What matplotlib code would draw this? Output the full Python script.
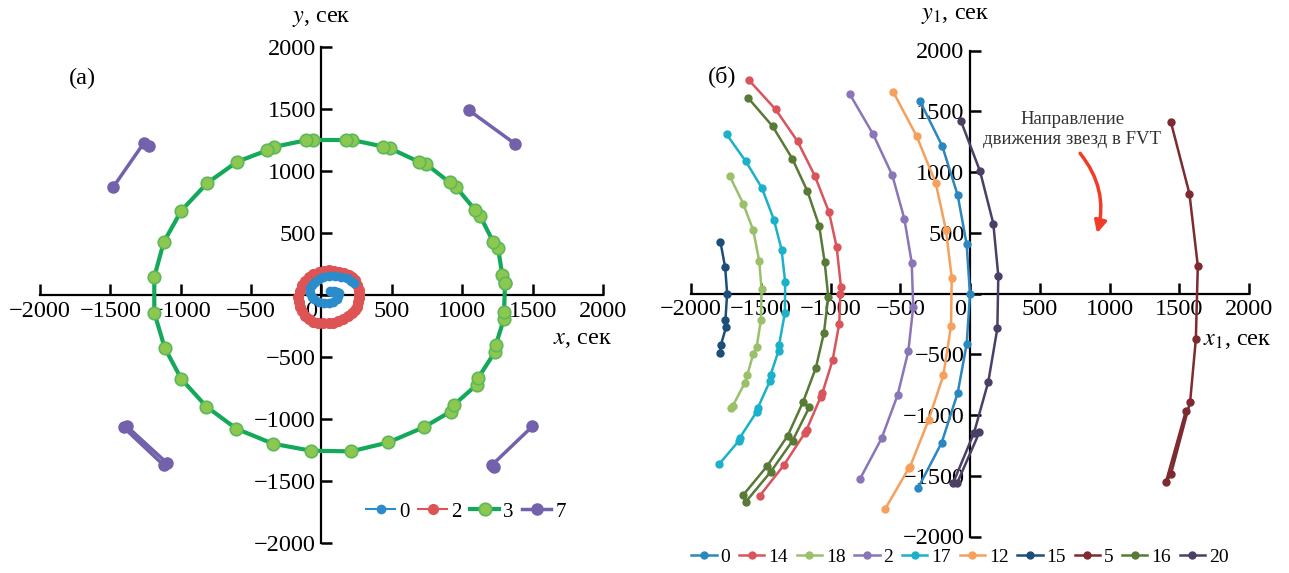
import numpy as np
import matplotlib
matplotlib.use("Agg")
import matplotlib.pyplot as plt
import matplotlib.transforms as mtransforms

plt.rcParams['font.family'] = ['Liberation Serif', 'DejaVu Serif']
plt.rcParams['mathtext.fontset'] = 'stix'

nan = np.nan

# ---------------- panel (а) data ----------------
a_labels = ["0", "2", "3", "7"]
a0_x = [60, 73, 90, 110, 121, 118, 109, 82, 50, 15, -21, -50, -69, -80, -80, -68, -45, -17, 14, 55, 97, 140, 180, 210, 228]
a0_y = [30, 27, 32, 28, 14, -12, -35, -55, -67, -65, -54, -35, -13, 20, 54, 82, 107, 128, 142, 150, 153, 147, 134, 115, 94]
a2_x = [240, 255, 263, 268, 268, 262, 251, 236, 216, 188, 156, 120, 85, 50, 14, -22, -57, -88, -116, -137, -152,
        -161, -164, -155, -140, -118, -92, -58, -21, 15, 50, 86, 121, 158, 192, 218]
a2_y = [120, 80, 40, 8, -27, -60, -94, -122, -147, -172, -195, -212, -222, -226, -227, -222, -214, -195, -169, -133,
        -94, -53, -13, 35, 80, 115, 147, 170, 187, 196, 201, 196, 187, 175, 161, 142]
a3_x = [1304, 1285, 1254, 1221, 1126, 1090, 958, 910, 745, 692, 486, 439, 218, 171, -62, -109, -339, -386, -600, -813,
        -996, -1121, -1188, -1188, -1114, -996, -818, -604, -346, -73, 211, 474, 728, 917, 941, 1102, 1114, 1233,
        1238, 1297, 1297, 1304]
a3_y = [99, 158, 380, 426, 640, 688, 867, 908, 1055, 1074, 1183, 1197, 1250, 1250, 1250, 1248, 1194, 1167, 1074, 902,
        680, 426, 145, -142, -426, -677, -900, -1079, -1199, -1256, -1261, -1189, -1066, -940, -886, -725, -667, -458,
        -404, -190, -137, 99]
a7_x = [-1482, -1264, -1228, nan, 1048, 1373, nan, -1406, -1121, -1098, -1382, nan, 1498, 1214, 1226]
a7_y = [867, 1223, 1202, nan, 1489, 1221, nan, -1068, -1373, -1355, -1060, nan, -1060, -1368, -1390]

# ---------------- panel (б) data ----------------
b_labels = ["0", "14", "18", "2", "17", "12", "15", "5", "16", "20"]
b0_x = [-359, -198, -88, -24, 0, -24, -88, -203, -371]
b0_y = [1584, 1211, 808, 405, -6, -417, -817, -1228, -1598]
b14_x = [-1583, -1394, -1236, -1112, -1011, -956, -925, -930, -937, -985, -1059, -1070, -1172, -1185, -1334, -1506]
b14_y = [1754, 1516, 1252, 967, 671, 383, 54, 0, -247, -549, -822, -850, -1124, -1150, -1412, -1664]
b18_x = [-1722, -1626, -1554, -1511, -1494, -1499, -1530, -1554, -1597, -1614, -1710, -1700]
b18_y = [965, 740, 521, 268, 33, -220, -444, -499, -672, -735, -946, -930]
b2_x = [-861, -694, -557, -471, -418, -407, -442, -519, -634, -789]
b2_y = [1639, 1310, 973, 617, 255, -110, -474, -836, -1193, -1527]
b17_x = [-1745, -1609, -1492, -1406, -1351, -1325, -1327, -1368, -1372, -1430, -1434, -1523, -1530, -1650, -1655, -1798]
b17_y = [1310, 1091, 869, 608, 362, 96, -159, -420, -470, -672, -720, -946, -975, -1187, -1210, -1404]
b12_x = [-550, -382, -246, -172, -131, -136, -191, -297, -430, -440, -610]
b12_y = [1658, 1294, 910, 521, 131, -266, -672, -1042, -1426, -1440, -1777]
b15_x = [-1789, -1755, -1741, -1753, -1748, -1786, -1791]
b15_y = [424, 214, 0, -214, -274, -425, -488]
b5_x = [1440, 1573, 1633, 1619, 1578, 1440, 1404, 1547]
b5_y = [1411, 822, 227, -376, -891, -1489, -1554, -968]
b16_x = [-1590, -1415, -1274, -1165, -1081, -1042, -1016, -1047, -1105, -1196, -1308, -1454, -1626, -1607, -1428,
         -1272, -1153]
b16_y = [1609, 1376, 1110, 841, 556, 260, -28, -324, -612, -891, -1173, -1420, -1659, -1714, -1467, -1212, -938]
b20_x = [-65, 72, 167, 203, 196, 131, 29, -120, -91, 67]
b20_y = [1420, 1006, 576, 145, -288, -727, -1146, -1557, -1557, -1143]

ticks = [-2000, -1500, -1000, -500, 0, 500, 1000, 1500, 2000]

fig = plt.figure(figsize=(12.89, 5.73), dpi=100)
axA = fig.add_axes([40 / 1289, 1 - 543 / 573, 563 / 1289, 496 / 573])
axB = fig.add_axes([691 / 1289, 1 - 536.5 / 573, 558 / 1289, 486 / 573])

TICKFS = 17.5


def style_axes(ax):
    ax.set_xlim(-2000, 2000)
    ax.set_ylim(-2000, 2000)
    for s in ['top', 'right']:
        ax.spines[s].set_visible(False)
    ax.spines['left'].set_position('zero')
    ax.spines['bottom'].set_position('zero')
    for s in ['left', 'bottom']:
        ax.spines[s].set_linewidth(1.6)
        ax.spines[s].set_zorder(0.5)
    ax.set_xticks(ticks)
    ax.set_xticklabels([f"{t}".replace('-', '\u2212') for t in ticks])
    ax.set_yticks(ticks)
    ax.set_yticklabels(["" if t == 0 else f"{t}".replace('-', '\u2212') for t in ticks])
    ax.tick_params(direction='in', length=8, width=1.8, labelsize=TICKFS, pad=4)
    # shift the "0" label slightly left
    lab0 = ax.get_xticklabels()[4]
    lab0.set_transform(lab0.get_transform() + mtransforms.ScaledTranslation(-10 / 100, 0, fig.dpi_scale_trans))
    ax.patch.set_visible(False)


style_axes(axA)
style_axes(axB)

# panel (а)
axA.plot(a0_x, a0_y, '-o', color='#2b8ccb', lw=1.5, ms=6, mec='#2b8ccb', label=a_labels[0], zorder=4, clip_on=False)
axA.plot(a2_x, a2_y, '-o', color='#de5454', lw=1.5, ms=7, mec='#de5454', label=a_labels[1], zorder=3, clip_on=False)
axA.plot(a3_x, a3_y, '-o', color='#14a85a', lw=3, ms=9, mfc='#8cc84f', mec='#5db85a', mew=1.2,
         label=a_labels[2], zorder=2, clip_on=False)
axA.plot(a7_x, a7_y, '-o', color='#7461ab', lw=2.5, ms=8, label=a_labels[3], zorder=2, clip_on=False)

axA.text(-1700, 1743, "(а)", fontsize=17.5, ha='center', va='center')
axA.text(0, 2233, "$y$, сек", fontsize=17.5, ha='center', va='center')
axA.text(1856, -361, "$x$, сек", fontsize=17.5, ha='center', va='center')
axA.legend(loc='center', bbox_to_anchor=(466 / 1289, 1 - 512 / 573), bbox_transform=fig.transFigure,
           ncol=4, frameon=False, fontsize=15, handlelength=1.4, handletextpad=0.2, columnspacing=0.4,
           borderaxespad=0)

# panel (б)
b_series = [(b0_x, b0_y, '#2a87c0'), (b14_x, b14_y, '#d9545b'), (b18_x, b18_y, '#9bc06a'),
            (b2_x, b2_y, '#8a75b9'), (b17_x, b17_y, '#1ab1c9'), (b12_x, b12_y, '#f6a05c'),
            (b15_x, b15_y, '#1b4e78'), (b5_x, b5_y, '#7d2a30'), (b16_x, b16_y, '#587a36'),
            (b20_x, b20_y, '#4b3f66')]
for (xs, ys, c), lab in zip(b_series, b_labels):
    axB.plot(xs, ys, '-o', color=c, lw=1.8, ms=5, label=lab, zorder=3, clip_on=False)

axB.text(-1779, 1787, "(б)", fontsize=17.5, ha='center', va='center')
axB.text(-108, 2289, "$y_1$, сек", fontsize=17.5, ha='center', va='center')
axB.text(1915, -384, "$x_1$, сек", fontsize=17.5, ha='center', va='center')
axB.text(732, 1347, "Направление\nдвижения звезд в FVT", fontsize=13.5, ha='center', va='center',
         color='#333333', linespacing=1.25)
axB.annotate("", xy=(911, 496), xytext=(789, 1154),
             arrowprops=dict(arrowstyle='-|>', color='#f03c28', lw=2.5, mutation_scale=18,
                             connectionstyle='arc3,rad=-0.25', shrinkA=0, shrinkB=0))
leg = axB.legend(loc='center', bbox_to_anchor=(960 / 1289, 1 - 557 / 573), bbox_transform=fig.transFigure,
                 ncol=10, frameon=True, fontsize=14, handlelength=1.3, handletextpad=0.2, columnspacing=0.45,
                 borderaxespad=0, borderpad=0.1, edgecolor='none', facecolor='white', framealpha=1)
leg.set_zorder(10)

fig.savefig("out.png", dpi=100)
